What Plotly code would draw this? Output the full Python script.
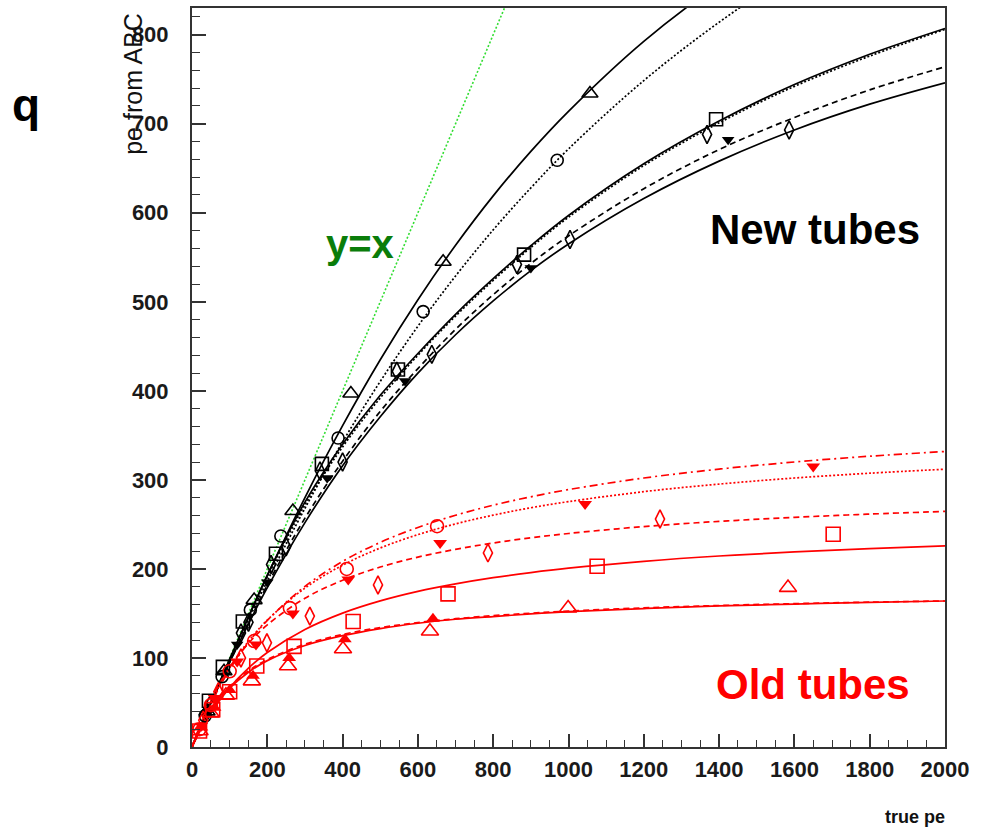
import plotly.graph_objects as go

# ---- fit curves, sampled on a common true-pe grid ----
fit_x = [0, 25, 50, 100, 150, 200, 300, 400, 500, 600, 700, 800, 900, 1000,
         1200, 1400, 1600, 1800, 2000]

# new tubes
new_tri_fit = [0, 25, 50, 98.6, 146.3, 192.5, 280.2, 361, 435, 502.4, 563.5, 619,
               669, 714, 792.6, 857, 910.7, 960, 1005]
new_circ_fit = [0, 24.9, 49.3, 96.9, 142.6, 186.3, 268, 342.7, 410.6, 472.6, 529,
                580.8, 628, 671.7, 748.5, 814, 870.6, 919, 963]
new_sq_fit = [0, 25, 49.5, 98, 146, 193, 275, 340, 395, 442, 486, 526, 563, 597,
              655, 703, 744, 778, 807]
new_dia_fit = [0, 25, 49.5, 97.5, 145, 191, 272, 337, 392, 440, 484, 524, 561,
               595, 653, 701, 742, 776, 806]
new_tdn_fit = [0, 25, 48.9, 95.3, 138.8, 182, 257, 321, 377, 425, 469, 508, 543,
               574, 627, 671, 707, 738, 764]
new_dia2_fit = [0, 25, 48.9, 95.1, 138.4, 178.9, 252, 316, 371, 420, 463, 501,
                535, 565, 616, 658, 693, 722, 746]

# old tubes
old_circ_fit = [0, 26.1, 49.0, 87.0, 117.4, 142.2, 180.4, 208.4, 229.8, 246.6,
                260.3, 271.6, 281.0, 289.1, 302.1, 312.1, 320.1, 326.6, 331.9]
old_tdn_fit = [0, 27.3, 50.7, 88.9, 118.7, 142.6, 178.5, 204.2, 223.5, 238.5,
               250.6, 260.4, 268.7, 275.6, 286.8, 295.3, 302.1, 307.5, 312.0]
old_dia_fit = [0, 28.9, 52.7, 89.4, 116.4, 137.2, 167.0, 187.3, 202.1, 213.3,
               222.0, 229.1, 235.0, 239.8, 247.6, 253.4, 257.9, 261.6, 264.6]
old_sq_fit = [0, 20.7, 38.3, 66.7, 88.6, 106.1, 132.0, 150.4, 164.1, 174.8,
              183.2, 190.2, 195.9, 200.8, 208.5, 214.5, 219.1, 222.9, 226.0]
old_tri_fit = [0, 23.8, 42.0, 67.9, 85.5, 98.2, 115.4, 126.4, 134.1, 139.8,
               144.1, 147.5, 150.3, 152.7, 156.3, 158.9, 161.0, 162.7, 164.0]
old_tri2_fit = [0, 23, 41, 66, 84, 97, 114, 125, 133, 139, 143.5, 146.5, 149.5,
                152, 155.5, 158.5, 160.5, 162.5, 164]

# ---- measured points ----
new_tri_x = [40, 85, 165, 268, 422, 667, 1057]
new_tri_y = [40, 85, 165, 265, 397, 545, 734]
new_circ_x = [35, 80, 155, 236, 388, 614, 970]
new_circ_y = [35, 79, 154, 237, 347, 489, 659]
new_sq_x = [45, 82, 135, 223, 345, 547, 882, 1392]
new_sq_y = [52, 90, 141, 217, 318, 424, 553, 705]
new_dia_x = [40, 130, 210, 340, 544, 863, 1368]
new_dia_y = [40, 128, 205, 310, 422, 542, 688]
new_tdn_x = [40, 120, 200, 359, 566, 900, 1424]
new_tdn_y = [38, 115, 185, 302, 411, 538, 682]
new_dia2_x = [50, 150, 250, 400, 637, 1004, 1586]
new_dia2_y = [49, 140, 225, 320, 441, 570, 693]

old_circ_x = [20, 50, 100, 165, 260, 411, 651]
old_circ_y = [20, 47, 85, 119, 156, 200, 248]
old_tdn_x = [25, 60, 120, 170, 268, 415, 659, 1044, 1650]
old_tdn_y = [24, 55, 96, 115, 150, 188, 229, 273, 315]
old_dia_x = [30, 70, 130, 199, 313, 494, 786, 1243]
old_dia_y = [30, 62, 100, 117, 147, 182, 218, 256]
old_sq_x = [20, 55, 100, 172, 271, 428, 680, 1076, 1703]
old_sq_y = [18, 42, 62, 91, 113, 141, 172, 203, 239]
old_tri_x = [20, 50, 90, 159, 255, 401, 632, 999, 1583]
old_tri_y = [18, 38, 58, 74, 91, 110, 130, 156, 179]
old_tri2_x = [25, 60, 100, 162, 258, 406, 640]
old_tri2_y = [22, 44, 64, 80, 100, 121, 144]

diag_x = [0, 2000]
diag_y = [0, 2000]

BLACK = "#000000"
RED = "#ff0000"
DOT = "2px,2px"
DASH = "6px,4px"
DASHDOT = "8px,4px,2px,4px"

fig = go.Figure()

# y = x reference
fig.add_trace(go.Scatter(x=diag_x, y=diag_y, mode="lines",
                         line=dict(color="#33dd33", width=1.6, dash=DOT),
                         hoverinfo="skip"))

curves = [
    (new_tri_fit, BLACK, "solid"),
    (new_circ_fit, BLACK, DOT),
    (new_sq_fit, BLACK, "solid"),
    (new_dia_fit, BLACK, DOT),
    (new_tdn_fit, BLACK, DASH),
    (new_dia2_fit, BLACK, "solid"),
    (old_circ_fit, RED, DASHDOT),
    (old_tdn_fit, RED, DOT),
    (old_dia_fit, RED, DASH),
    (old_sq_fit, RED, "solid"),
    (old_tri_fit, RED, DASH),
    (old_tri2_fit, RED, "solid"),
]
for ys, col, dash in curves:
    fig.add_trace(go.Scatter(x=fit_x, y=ys, mode="lines", line_shape="spline",
                             line=dict(color=col, width=1.7, dash=dash),
                             hoverinfo="skip"))

points = [
    (new_tri_x, new_tri_y, BLACK, "triangle-up-open", 14),
    (new_circ_x, new_circ_y, BLACK, "circle-open", 12),
    (new_sq_x, new_sq_y, BLACK, "square-open", 13),
    (new_dia_x, new_dia_y, BLACK, "diamond-tall-open", 13),
    (new_tdn_x, new_tdn_y, BLACK, "triangle-down", 11),
    (new_dia2_x, new_dia2_y, BLACK, "diamond-tall-open", 13),
    (old_circ_x, old_circ_y, RED, "circle-open", 13),
    (old_tdn_x, old_tdn_y, RED, "triangle-down", 12),
    (old_dia_x, old_dia_y, RED, "diamond-tall-open", 13),
    (old_sq_x, old_sq_y, RED, "square-open", 14),
    (old_tri_x, old_tri_y, RED, "triangle-up-open", 15),
    (old_tri2_x, old_tri2_y, RED, "triangle-up", 12),
]
for xs, ys, col, sym, sz in points:
    open_sym = sym.endswith("open")
    fig.add_trace(go.Scatter(
        x=xs, y=ys, mode="markers",
        marker=dict(symbol=sym, size=sz, color=col,
                    line=dict(color=col, width=1.6 if open_sym else 0)),
        hoverinfo="skip"))

AX = "#333333"
TICKFONT = dict(family="Liberation Sans", size=22, color="#1a1a1a", weight="bold")

fig.update_xaxes(range=[0, 2000], tick0=0, dtick=200, ticks="inside", ticklen=13,
                 tickwidth=1.5, tickcolor=AX, showline=True, linecolor=AX,
                 linewidth=2, mirror=True, showgrid=False, zeroline=False,
                 tickfont=TICKFONT, ticklabelstandoff=2,
                 minor=dict(dtick=50, ticks="inside", ticklen=7, tickwidth=1.2,
                            tickcolor=AX, showgrid=False))
fig.update_yaxes(range=[0, 830], tick0=0, dtick=100, ticks="inside", ticklen=14,
                 tickwidth=1.5, tickcolor=AX, showline=True, linecolor=AX,
                 linewidth=2, mirror=True, showgrid=False, zeroline=False,
                 tickfont=TICKFONT, ticklabelstandoff=17,
                 minor=dict(dtick=20, ticks="inside", ticklen=8, tickwidth=1.2,
                            tickcolor=AX, showgrid=False))

annos = [
    dict(text="y=x", x=446, y=565, xref="x", yref="y", showarrow=False,
         font=dict(family="Liberation Sans", size=40, color="#0a7d0a", weight="bold")),
    dict(text="New tubes", x=1655, y=581, xref="x", yref="y", showarrow=False,
         font=dict(family="Liberation Sans", size=42, color="#000000", weight="bold")),
    dict(text="Old tubes", x=1649, y=70, xref="x", yref="y", showarrow=False,
         font=dict(family="Liberation Sans", size=42, color="#ff0000", weight="bold")),
    dict(text="q", x=26, y=832 - 103, showarrow=False,
         font=dict(family="Liberation Sans", size=46, color="#000000", weight="bold")),
    dict(text="pe from ABC", x=133, y=832 - 82, textangle=-90, showarrow=False,
         font=dict(family="Liberation Sans", size=25, color="#111111")),
    dict(text="true pe", x=915, y=832 - 817, showarrow=False,
         font=dict(family="Liberation Sans", size=18, color="#111111", weight="bold")),
]
# page-pixel annotations are converted to paper coordinates
L, R, T, B, W, H = 192, 50, 6, 85, 995, 832
pw, ph = W - L - R, H - T - B
for a in annos:
    if a.get("xref") == "x":
        fig.add_annotation(**a)
    else:
        px, py = a.pop("x"), a.pop("y")
        fig.add_annotation(x=(px - L) / pw, y=(py - B) / ph, xref="paper",
                           yref="paper", xanchor="center", yanchor="middle", **a)

fig.update_layout(width=W, height=H, margin=dict(l=L, r=R, t=T, b=B),
                  paper_bgcolor="white", plot_bgcolor="white", showlegend=False)

fig.write_html("out.html")
